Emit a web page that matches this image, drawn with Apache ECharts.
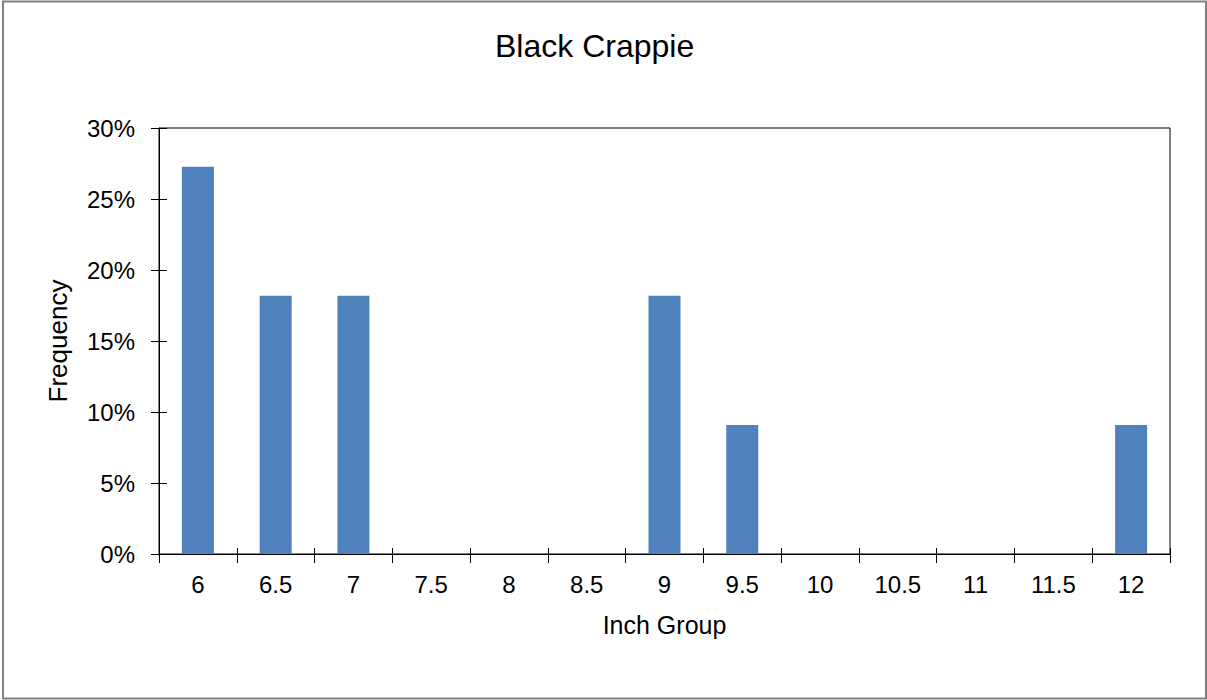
<!DOCTYPE html>
<html>
<head>
<meta charset="utf-8">
<script src="https://cdn.jsdelivr.net/npm/echarts@6/dist/echarts.min.js"></script>
<style>
  html, body { margin: 0; padding: 0; background: #fff; }
  #chart { width: 1207px; height: 700px; }
</style>
</head>
<body>
<div id="chart"></div>
<script>
// Inch groups along the x axis
const inchGroups = ['6', '6.5', '7', '7.5', '8', '8.5', '9', '9.5', '10', '10.5', '11', '11.5', '12'];
// Share of fish in each group, in percent
const frequency = [27.27, 18.18, 18.18, 0, 0, 0, 18.18, 9.09, 0, 0, 0, 0, 9.09];
const yTicks = { min: 0, max: 30, step: 5 };

const chart = echarts.init(document.getElementById('chart'), null, { renderer: 'svg' });

const font = 'Liberation Sans, Arial, sans-serif';
const axisColor = '#000';

const option = {
  animation: false,
  backgroundColor: '#fff',
  title: {
    text: 'Black Crappie',
    left: 490,
    top: 25,
    textStyle: { fontFamily: font, fontSize: 32, fontWeight: 'normal', color: '#000' },
  },
  grid: {
    left: 159,
    right: 37,
    top: 128,
    bottom: 146,
    show: true,
    borderColor: axisColor,
    borderWidth: 1,
    backgroundColor: 'transparent',
  },
  xAxis: [
    {
      type: 'category',
      data: inchGroups,
      name: 'Inch Group',
      nameLocation: 'middle',
      nameGap: 58,
      nameTextStyle: { fontFamily: font, fontSize: 25, color: '#000' },
      axisLine: { lineStyle: { color: axisColor, width: 1 } },
      axisTick: { show: true, length: 9, alignWithLabel: false, lineStyle: { color: axisColor } },
      axisLabel: { fontFamily: font, fontSize: 24, color: '#000', margin: 18 },
    },
    {
      // inner half of the crossing ticks
      type: 'category',
      data: inchGroups,
      position: 'bottom',
      axisLine: { show: false },
      axisTick: { show: true, inside: true, length: 6, lineStyle: { color: axisColor } },
      axisLabel: { show: false },
    },
  ],
  yAxis: [
    {
      type: 'value',
      min: yTicks.min,
      max: yTicks.max,
      interval: yTicks.step,
      name: 'Frequency',
      nameLocation: 'middle',
      nameGap: 88,
      nameTextStyle: { fontFamily: font, fontSize: 26, color: '#000' },
      axisLine: { show: true, lineStyle: { color: axisColor, width: 1 } },
      axisTick: { show: true, length: 8, lineStyle: { color: axisColor } },
      axisLabel: { fontFamily: font, fontSize: 24, color: '#000', margin: 24, formatter: '{value}%' },
      splitLine: { show: false },
    },
    {
      type: 'value',
      min: yTicks.min,
      max: yTicks.max,
      interval: yTicks.step,
      position: 'left',
      axisLine: { show: false },
      axisTick: { show: true, inside: true, length: 8, lineStyle: { color: axisColor } },
      axisLabel: { show: false },
      splitLine: { show: false },
    },
  ],
  series: [
    {
      type: 'bar',
      data: frequency,
      barWidth: 32,
      itemStyle: { color: '#4F81BD' },
    },
  ],
  graphic: [
    {
      type: 'rect',
      shape: { x: 3, y: 1.5, width: 1203, height: 697 },
      style: { fill: 'none', stroke: '#808080', lineWidth: 2 },
      silent: true,
    },
  ],
};

chart.setOption(option);

window.addEventListener('resize', () => chart.resize());
</script>
</body>
</html>
